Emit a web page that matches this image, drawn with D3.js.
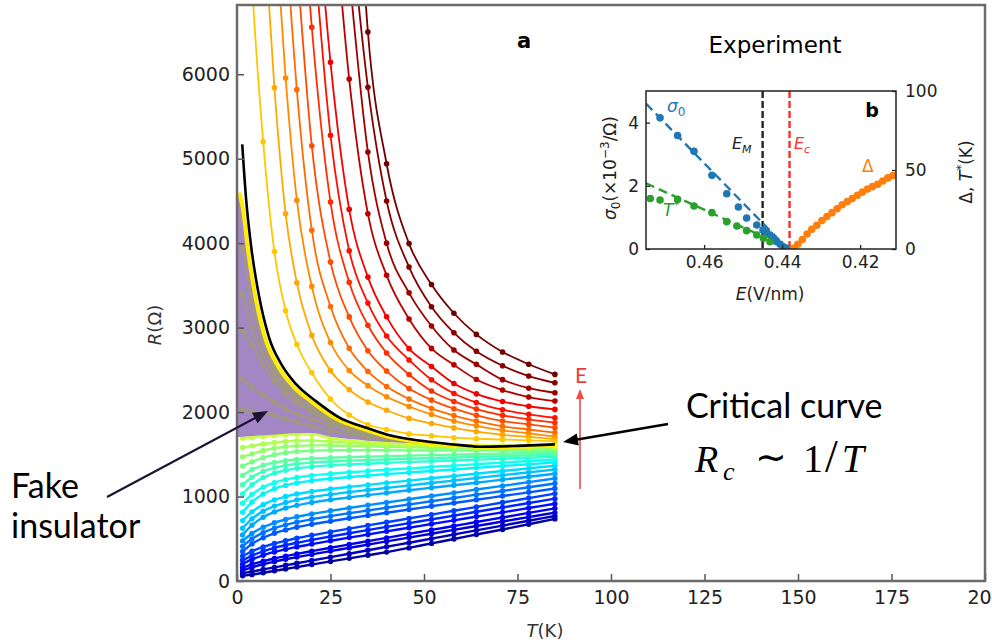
<!DOCTYPE html>
<html><head><meta charset="utf-8">
<script src="https://cdn.jsdelivr.net/npm/d3@7"></script>
<style>body{margin:0;background:#fff}svg{display:block}</style>
</head><body>
<svg id="c" width="992" height="642"></svg>
<script>
// ---------------- DATA ----------------
const T_GRID = [1.5, 4, 7, 10, 13, 16, 20, 25, 30, 35, 40, 46, 52, 58, 64, 71, 78, 85];
// insulating side (yellow -> dark red)
const R_INS_1 = [9500, 7100, 5200, 3900, 3200, 2800, 2465, 2155, 1965, 1850, 1794, 1742, 1720, 1697, 1684, 1675, 1665, 1655];
const R_INS_2 = [null, null, 7900, 5840, 4347, 3532, 2908, 2491, 2265, 2120, 2022, 1925, 1865, 1813, 1768, 1731, 1706, 1680];
const R_INS_3 = [null, null, null, 7900, 5956, 4509, 3488, 2824, 2493, 2313, 2181, 2066, 1972, 1894, 1838, 1783, 1747, 1710];
const R_INS_4 = [null, null, null, null, 7650, 5818, 4153, 3250, 2755, 2482, 2302, 2154, 2043, 1959, 1894, 1832, 1794, 1756];
const R_INS_5 = [null, null, null, null, null, 7350, 5154, 3776, 3127, 2726, 2485, 2278, 2142, 2040, 1962, 1894, 1854, 1815];
const R_INS_6 = [null, null, null, null, null, 9000, 6557, 4486, 3538, 3028, 2700, 2445, 2250, 2126, 2036, 1962, 1914, 1874];
const R_INS_7 = [null, null, null, null, null, null, 7820, 5277, 3911, 3291, 2901, 2617, 2382, 2220, 2113, 2028, 1973, 1933];
const R_INS_8 = [null, null, null, null, null, null, 8800, 6141, 4400, 3598, 3128, 2751, 2539, 2338, 2216, 2125, 2069, 2032];
const R_INS_9 = [null, null, null, null, null, null, null, 8470, 5943, 4349, 3619, 3103, 2754, 2559, 2386, 2261, 2178, 2130];
const R_INS_10 = [null, null, null, null, null, null, null, null, 7200, 5080, 4000, 3412, 3019, 2735, 2565, 2384, 2283, 2229];
const R_INS_11 = [null, null, null, null, null, null, null, null, 7950, 5845, 4500, 3717, 3247, 2939, 2720, 2549, 2427, 2347];
const R_INS_12 = [null, null, null, null, null, null, null, null, 10400, 6500, 4940, 3995, 3510, 3170, 2920, 2712, 2566, 2446];
// metallic side (green -> dark blue)
const R_MET_0 = [1690, 1700, 1712, 1722, 1730, 1735, 1736, 1690, 1662, 1645, 1630, 1618, 1610, 1605, 1602, 1600, 1600, 1600];
const R_MET_1 = [1580, 1600, 1622, 1640, 1652, 1660, 1663, 1650, 1635, 1622, 1612, 1603, 1597, 1593, 1590, 1588, 1586, 1585];
const R_MET_2 = [1470, 1505, 1545, 1572, 1590, 1600, 1606, 1605, 1600, 1594, 1588, 1582, 1577, 1573, 1570, 1568, 1566, 1565];
const R_MET_3 = [1360, 1410, 1460, 1495, 1518, 1533, 1543, 1548, 1549, 1549, 1548, 1547, 1546, 1546, 1545, 1545, 1545, 1545];
const R_MET_4 = [1250, 1317, 1370, 1403, 1424, 1438, 1450, 1459, 1467, 1472, 1478, 1484, 1490, 1496, 1502, 1508, 1515, 1522];
const R_MET_5 = [1140, 1229, 1297, 1340, 1368, 1386, 1402, 1415, 1424, 1432, 1439, 1447, 1455, 1462, 1470, 1479, 1488, 1497];
const R_MET_6 = [1030, 1139, 1224, 1277, 1311, 1334, 1353, 1369, 1380, 1389, 1399, 1408, 1418, 1427, 1437, 1448, 1459, 1470];
const R_MET_7 = [920, 1026, 1110, 1164, 1200, 1225, 1249, 1270, 1287, 1302, 1317, 1333, 1350, 1366, 1383, 1402, 1421, 1440];
const R_MET_8 = [815, 935, 1030, 1092, 1132, 1161, 1188, 1212, 1231, 1248, 1265, 1284, 1303, 1321, 1340, 1362, 1383, 1405];
const R_MET_9 = [715, 819, 904, 960, 1000, 1030, 1060, 1089, 1114, 1138, 1162, 1189, 1216, 1243, 1270, 1302, 1333, 1365];
const R_MET_10 = [625, 736, 827, 887, 929, 961, 993, 1025, 1052, 1077, 1102, 1132, 1161, 1190, 1219, 1253, 1286, 1320];
const R_MET_11 = [545, 661, 755, 818, 863, 896, 929, 962, 990, 1017, 1043, 1074, 1104, 1134, 1164, 1200, 1234, 1270];
const R_MET_12 = [475, 563, 636, 689, 728, 760, 794, 831, 865, 898, 930, 968, 1006, 1044, 1083, 1126, 1171, 1215];
const R_MET_13 = [410, 499, 572, 625, 665, 697, 731, 768, 803, 835, 868, 906, 945, 983, 1022, 1066, 1110, 1155];
const R_MET_14 = [350, 439, 512, 565, 605, 637, 671, 708, 743, 775, 808, 846, 885, 923, 962, 1006, 1050, 1095];
const R_MET_15 = [295, 352, 403, 444, 476, 506, 541, 581, 620, 658, 696, 741, 786, 832, 877, 929, 982, 1035];
const R_MET_16 = [245, 301, 352, 392, 424, 453, 487, 527, 565, 603, 641, 685, 730, 774, 820, 871, 923, 975];
const R_MET_17 = [200, 255, 304, 344, 375, 404, 437, 476, 514, 550, 588, 631, 675, 718, 763, 813, 864, 915];
const R_MET_18 = [160, 198, 234, 266, 294, 321, 354, 394, 433, 472, 511, 558, 605, 651, 698, 752, 806, 860];
const R_MET_19 = [125, 162, 198, 229, 257, 283, 315, 354, 392, 431, 469, 514, 560, 605, 651, 704, 757, 810];
const R_MET_20 = [92, 112, 137, 161, 186, 210, 243, 283, 323, 364, 405, 453, 502, 551, 600, 656, 713, 770];
const R_MET_21 = [62, 75, 98, 120, 142, 165, 195, 232, 268, 305, 342, 392, 445, 497, 550, 610, 672, 735];
// "fake insulator" curves
const R_FAKE_1 = [3950, 3300, 2830, 2530, 2330, 2190, 2050, 1920, 1830, 1765, 1712, 1668, 1632, 1608, 1600, 1600, 1603, 1610];
const R_FAKE_2 = [3400, 3000, 2680, 2450, 2270, 2140, 2020, 1905, 1815, 1755, 1705, 1665, 1633, 1612, 1602, 1598, 1601, 1607];
const R_FAKE_3 = [2960, 2800, 2560, 2370, 2210, 2100, 2000, 1880, 1800, 1740, 1695, 1660, 1630, 1610, 1600, 1596, 1598, 1604];
const R_FAKE_4 = [2390, 2300, 2200, 2120, 2040, 1980, 1920, 1840, 1780, 1725, 1685, 1652, 1625, 1607, 1598, 1594, 1596, 1601];
const R_FAKE_5 = [2030, 2010, 1985, 1960, 1920, 1880, 1835, 1780, 1740, 1705, 1670, 1640, 1617, 1603, 1595, 1592, 1594, 1598];
// critical curve (black) and its yellow companion
const T_CRIT = [1.4, 2.4, 3.7, 6, 8.6, 11.8, 15.8, 21.1, 27.4, 34.5, 40, 49.8, 60.5, 65, 75, 85];
const R_CRIT = [5170, 4540, 3990, 3350, 2880, 2570, 2330, 2130, 1935, 1815, 1736, 1657, 1606, 1590, 1600, 1618];
const T_CRIT_Y = [0.6, 1.6, 2.9, 5.2, 7.8, 11, 15, 20.3, 26.6, 33.7, 39.2, 49, 59.7, 70, 85];
const R_CRIT_Y = [4600, 4400, 3930, 3300, 2840, 2540, 2305, 2110, 1920, 1800, 1722, 1645, 1597, 1585, 1604];
// shaded "fake insulator" region
const T_REGION = [0, 0.6, 1.5, 2.5, 4, 6, 8.6, 12, 16, 20, 25, 30, 35, 40, 46, 52, 58, 62];
const R_REGION_TOP = [4620, 4570, 4390, 4050, 3600, 3130, 2740, 2460, 2250, 2105, 1955, 1852, 1772, 1708, 1662, 1627, 1602, 1596];
const R_REGION_BOT = [1705, 1705, 1708, 1712, 1716, 1722, 1730, 1740, 1748, 1752, 1708, 1680, 1662, 1646, 1634, 1622, 1600, 1596];
// axis ticks
const T_TICKS = [0, 25, 50, 75, 100, 125, 150, 175, 200];
const R_TICKS = [0, 1000, 2000, 3000, 4000, 5000, 6000];
// inset (b)
const E_SIGMA = [0.4713, 0.4668, 0.4626, 0.4580, 0.4542, 0.4512, 0.4491, 0.4465, 0.4449, 0.4440, 0.4431, 0.4422, 0.4414, 0.4405, 0.4397, 0.4390, 0.4382];
const SIGMA0 = [4.15, 3.59, 3.09, 2.33, 1.75, 1.33, 0.98, 0.76, 0.60, 0.52, 0.44, 0.33, 0.23, 0.15, 0.07, 0.03, 0.0];
const E_SIGMA_FIT = [0.4749, 0.4385];
const SIGMA0_FIT = [4.6, 0];
const E_TSTAR = [0.4738, 0.4713, 0.4668, 0.4626, 0.4580, 0.4542, 0.4516, 0.4491, 0.4465, 0.4448, 0.4431];
const TSTAR = [32, 31, 31.4, 27.2, 23, 17.3, 14.6, 11.6, 8.9, 6.8, 4.6];
const E_TSTAR_FIT = [0.4749, 0.4448];
const TSTAR_FIT = [41.6, 7.8];
const E_GAP = [0.4371, 0.4360, 0.4348, 0.4336, 0.4324, 0.4311, 0.4298, 0.4285, 0.4272, 0.4259, 0.4246, 0.4233, 0.4220, 0.4207, 0.4194, 0.4181, 0.4168, 0.4155, 0.4142, 0.4129, 0.4116];
const GAP = [0.5, 3, 6, 9.5, 12.5, 15, 18, 20.5, 23, 25.5, 28, 30, 32, 34, 36, 38, 39.5, 41, 43, 45, 46.5];
const E_M = 0.445, E_C = 0.4381;
const E_TICKS = [0.46, 0.44, 0.42];
const SIG_TICKS = [0, 2, 4];
const RIGHT_TICKS = [0, 50, 100];

// ---------------- DRAWING ----------------
const svg = d3.select('#c');
const FONT = "'DejaVu Sans', sans-serif";
const x = d3.scaleLinear().domain([0, 200]).range([237, 985]);
const y = d3.scaleLinear().domain([0, 6820]).range([581, 5]);

function jet(v) {
  const c = t => Math.max(0, Math.min(1, t));
  return d3.rgb(255 * c(1.5 - Math.abs(4 * v - 3)), 255 * c(1.5 - Math.abs(4 * v - 2)), 255 * c(1.5 - Math.abs(4 * v - 1))).formatHex();
}

const defs = svg.append('defs');
defs.append('clipPath').attr('id', 'plotclip').append('rect')
  .attr('x', x(0)).attr('y', y(6820)).attr('width', x(200) - x(0)).attr('height', y(0) - y(6820));

const regionPts = T_REGION.map((t, i) => ({t, top: R_REGION_TOP[i], bot: R_REGION_BOT[i]}));
const area = d3.area().x(d => x(d.t)).y0(d => y(d.bot)).y1(d => y(d.top)).curve(d3.curveMonotoneX);
defs.append('clipPath').attr('id', 'regionclip').append('path').attr('d', area(regionPts));

const plot = svg.append('g').attr('clip-path', 'url(#plotclip)');
const line = d3.line().defined(d => d[1] != null).x(d => x(d[0])).y(d => y(d[1])).curve(d3.curveMonotoneX);

function drawCurve(g, ts, rs, color, lw, r) {
  const pts = ts.map((t, i) => [t, rs[i]]);
  g.append('path').attr('d', line(pts)).attr('fill', 'none').attr('stroke', color).attr('stroke-width', lw);
  g.selectAll(null).data(pts.filter(p => p[1] != null)).enter().append('circle')
    .attr('cx', p => x(p[0])).attr('cy', p => y(p[1])).attr('r', r).attr('fill', color);
}

const METALLIC = [R_MET_0, R_MET_1, R_MET_2, R_MET_3, R_MET_4, R_MET_5, R_MET_6, R_MET_7, R_MET_8, R_MET_9, R_MET_10,
  R_MET_11, R_MET_12, R_MET_13, R_MET_14, R_MET_15, R_MET_16, R_MET_17, R_MET_18, R_MET_19, R_MET_20, R_MET_21];
const INSULATING = [R_INS_1, R_INS_2, R_INS_3, R_INS_4, R_INS_5, R_INS_6, R_INS_7, R_INS_8, R_INS_9, R_INS_10, R_INS_11, R_INS_12];
const FAKE = [R_FAKE_1, R_FAKE_2, R_FAKE_3, R_FAKE_4, R_FAKE_5];

const metColor = d3.scaleLinear().domain([0, METALLIC.length - 1]).range([0.57, 0.035]);
const insJet = [0.68, 0.71, 0.74, 0.77, 0.80, 0.83, 0.86, 0.885, 0.92, 0.95, 0.975, 1.0];

for (let j = METALLIC.length - 1; j >= 0; j--) drawCurve(plot, T_GRID, METALLIC[j], jet(metColor(j)), 2.4, 2.7);
FAKE.forEach((rs, i) => drawCurve(plot, T_GRID, rs, jet(0.6 + i * 0.005), 2.2, 2.6));
plot.append('path').attr('d', area(regionPts)).attr('fill', '#a386c4');
const inReg = plot.append('g').attr('clip-path', 'url(#regionclip)');
FAKE.forEach(rs => drawCurve(inReg, T_GRID, rs, '#a09a7c', 2.2, 2.6));
for (let k = INSULATING.length - 1; k >= 0; k--) {
  const col = d3.color(jet(insJet[k]));
  const dark = insJet[k] > 0.9 ? col.darker(0.35) : col;
  drawCurve(plot, T_GRID, INSULATING[k], dark.formatHex(), 1.8, 2.8);
}
plot.append('path').attr('d', line(T_CRIT_Y.map((t, i) => [t, R_CRIT_Y[i]])))
  .attr('fill', 'none').attr('stroke', '#ffec00').attr('stroke-width', 4);
plot.append('path').attr('d', line(T_CRIT.map((t, i) => [t, R_CRIT[i]])))
  .attr('fill', 'none').attr('stroke', '#000').attr('stroke-width', 2.6);

// axes
const axG = svg.append('g');
const xAx = axG.append('g').attr('transform', `translate(0,${y(0)})`)
  .call(d3.axisBottom(x).tickValues(T_TICKS).tickSizeInner(-7).tickSizeOuter(0).tickPadding(10).tickFormat(d3.format('d')));
const yAx = axG.append('g').attr('transform', `translate(${x(0)},0)`)
  .call(d3.axisLeft(y).tickValues(R_TICKS).tickSizeInner(-7).tickSizeOuter(0).tickPadding(7).tickFormat(d3.format('d')));
[xAx, yAx].forEach(a => {
  a.select('.domain').remove();
  a.selectAll('.tick line').attr('stroke', '#555').attr('stroke-width', 1.5);
  a.selectAll('.tick text').attr('fill', '#222').style('font-family', FONT).style('font-size', '19px');
});
axG.append('rect').attr('x', x(0)).attr('y', y(6820)).attr('width', x(200) - x(0)).attr('height', y(0) - y(6820))
  .attr('fill', 'none').attr('stroke', '#6b6b6b').attr('stroke-width', 2.5);

const tl = svg.append('text').attr('x', 545).attr('y', 637).attr('text-anchor', 'middle')
  .style('font-family', FONT).style('font-size', '18px').attr('fill', '#333');
tl.append('tspan').style('font-style', 'italic').text('T');
tl.append('tspan').text('(K)');
const rl = svg.append('text').attr('transform', 'translate(161,325) rotate(-90)').attr('text-anchor', 'middle')
  .style('font-family', FONT).style('font-size', '18px').attr('fill', '#333');
rl.append('tspan').style('font-style', 'italic').text('R');
rl.append('tspan').text('(Ω)');

svg.append('text').attr('x', 524).attr('y', 48).attr('text-anchor', 'middle').style('font-family', FONT)
  .style('font-size', '21px').style('font-weight', 'bold').text('a');

// ---------------- INSET ----------------
const ix = d3.scaleLinear().domain([0.4749, 0.4108]).range([646, 896]);
const iyL = d3.scaleLinear().domain([0, 5]).range([249, 91]);
const iyR = d3.scaleLinear().domain([0, 100]).range([249, 91]);
const ins = svg.append('g');
ins.append('text').attr('x', 775).attr('y', 53).attr('text-anchor', 'middle').style('font-family', FONT)
  .style('font-size', '23px').text('Experiment');
defs.append('clipPath').attr('id', 'insclip').append('rect').attr('x', 646).attr('y', 91).attr('width', 250).attr('height', 158);
const ip = ins.append('g').attr('clip-path', 'url(#insclip)');
const BLUE = '#1f77b4', GREEN = '#2ca02c', ORANGE = '#ff7f0e';
ip.append('line').attr('x1', ix(E_M)).attr('x2', ix(E_M)).attr('y1', 91).attr('y2', 249)
  .attr('stroke', '#222').attr('stroke-width', 2.4).attr('stroke-dasharray', '7,3');
ip.append('line').attr('x1', ix(E_C)).attr('x2', ix(E_C)).attr('y1', 91).attr('y2', 249)
  .attr('stroke', '#ff2a2a').attr('stroke-width', 2.4).attr('stroke-dasharray', '7,3');
const fitLine = (es, vs, sc) => d3.line()(es.map((e, i) => [ix(e), sc(vs[i])]));
ip.append('path').attr('d', fitLine(E_SIGMA_FIT, SIGMA0_FIT, iyL)).attr('stroke', BLUE).attr('stroke-width', 2.4)
  .attr('stroke-dasharray', '9,5').attr('fill', 'none');
ip.append('path').attr('d', fitLine(E_TSTAR_FIT, TSTAR_FIT, iyR)).attr('stroke', GREEN).attr('stroke-width', 2.4)
  .attr('stroke-dasharray', '9,5').attr('fill', 'none');
ip.selectAll(null).data(E_SIGMA.map((e, i) => [e, SIGMA0[i]])).enter().append('circle')
  .attr('cx', d => ix(d[0])).attr('cy', d => iyL(d[1])).attr('r', 3.8).attr('fill', BLUE);
ip.selectAll(null).data(E_TSTAR.map((e, i) => [e, TSTAR[i]])).enter().append('circle')
  .attr('cx', d => ix(d[0])).attr('cy', d => iyR(d[1])).attr('r', 3.8).attr('fill', GREEN);
ip.selectAll(null).data(E_GAP.map((e, i) => [e, GAP[i]])).enter().append('circle')
  .attr('cx', d => ix(d[0])).attr('cy', d => iyR(d[1])).attr('r', 3.8).attr('fill', ORANGE);
const iax = (g, axis) => {
  g.call(axis);
  g.select('.domain').remove();
  g.selectAll('.tick line').attr('stroke', '#222').attr('stroke-width', 1.3);
  g.selectAll('.tick text').style('font-family', FONT).style('font-size', '17px').attr('fill', '#222');
};
iax(ins.append('g').attr('transform', 'translate(0,249)'),
  d3.axisBottom(ix).tickValues(E_TICKS).tickSizeInner(-4).tickSizeOuter(0).tickPadding(7).tickFormat(d3.format('.2f')));
iax(ins.append('g').attr('transform', 'translate(646,0)'),
  d3.axisLeft(iyL).tickValues(SIG_TICKS).tickSizeInner(-4).tickSizeOuter(0).tickPadding(7).tickFormat(d3.format('d')));
iax(ins.append('g').attr('transform', 'translate(896,0)'),
  d3.axisRight(iyR).tickValues(RIGHT_TICKS).tickSizeInner(-4).tickSizeOuter(0).tickPadding(9).tickFormat(d3.format('d')));
ins.append('rect').attr('x', 646).attr('y', 91).attr('width', 250).attr('height', 158)
  .attr('fill', 'none').attr('stroke', '#222').attr('stroke-width', 1.5);
const xl = ins.append('text').attr('x', 770).attr('y', 300).attr('text-anchor', 'middle')
  .style('font-family', FONT).style('font-size', '17px').attr('fill', '#222');
xl.append('tspan').style('font-style', 'italic').text('E');
xl.append('tspan').text('(V/nm)');
const yl = ins.append('text').attr('transform', 'translate(616,168) rotate(-90)').attr('text-anchor', 'middle')
  .style('font-family', FONT).style('font-size', '17px').attr('fill', '#222');
yl.append('tspan').style('font-style', 'italic').text('σ');
yl.append('tspan').attr('dy', 4).style('font-size', '12px').text('0');
yl.append('tspan').attr('dy', -4).text('(×10');
yl.append('tspan').attr('dy', -7).style('font-size', '12px').text('−3');
yl.append('tspan').attr('dy', 7).text('/Ω)');
const yr = ins.append('text').attr('transform', 'translate(972,172) rotate(-90)').attr('text-anchor', 'middle')
  .style('font-family', FONT).style('font-size', '17px').attr('fill', '#222');
yr.append('tspan').text('Δ, ');
yr.append('tspan').style('font-style', 'italic').text('T');
yr.append('tspan').attr('dy', -7).style('font-size', '12px').text('*');
yr.append('tspan').attr('dy', 7).text('(K)');
ins.append('text').attr('x', 872).attr('y', 117).attr('text-anchor', 'middle').style('font-family', FONT)
  .style('font-size', '19px').style('font-weight', 'bold').text('b');
const s0 = ins.append('text').attr('x', 667).attr('y', 112).style('font-family', FONT).style('font-size', '17px').attr('fill', BLUE);
s0.append('tspan').style('font-style', 'italic').text('σ');
s0.append('tspan').attr('dy', 4).style('font-size', '12px').text('0');
const ts = ins.append('text').attr('x', 663).attr('y', 216).style('font-family', FONT).style('font-size', '17px').attr('fill', GREEN);
ts.append('tspan').style('font-style', 'italic').text('T');
ts.append('tspan').attr('dy', -7).style('font-size', '12px').text('*');
ins.append('text').attr('x', 862).attr('y', 172).style('font-family', FONT).style('font-size', '17px').attr('fill', ORANGE).text('Δ');
const em = ins.append('text').attr('x', 732).attr('y', 149).style('font-family', FONT).style('font-size', '16px').attr('fill', '#222');
em.append('tspan').style('font-style', 'italic').text('E');
em.append('tspan').attr('dy', 4).style('font-size', '11px').style('font-style', 'italic').text('M');
const ec = ins.append('text').attr('x', 794).attr('y', 149).style('font-family', FONT).style('font-size', '16px').attr('fill', '#ff2a2a');
ec.append('tspan').style('font-style', 'italic').text('E');
ec.append('tspan').attr('dy', 4).style('font-size', '11px').style('font-style', 'italic').text('c');

// ---------------- ANNOTATIONS ----------------
const ANN = "Lato, 'Open Sans', sans-serif";
function arrow(x1, y1, x2, y2, color, lw, hl, hw) {
  const a = Math.atan2(y2 - y1, x2 - x1);
  const bx = x2 - hl * Math.cos(a), by = y2 - hl * Math.sin(a);
  svg.append('line').attr('x1', x1).attr('y1', y1).attr('x2', bx + 2 * Math.cos(a)).attr('y2', by + 2 * Math.sin(a))
    .attr('stroke', color).attr('stroke-width', lw);
  const px = -Math.sin(a) * hw / 2, py = Math.cos(a) * hw / 2;
  svg.append('path').attr('d', `M${x2},${y2}L${bx + px},${by + py}L${bx - px},${by - py}Z`).attr('fill', color);
}
arrow(580, 489, 580, 389, '#f04a4a', 1.6, 10, 8);
svg.append('text').attr('x', 581).attr('y', 383).attr('text-anchor', 'middle').style('font-family', ANN)
  .style('font-size', '21px').attr('fill', '#f03a3a').text('E');
arrow(668, 424, 563, 442, '#000', 2.6, 15, 12);
svg.append('text').attr('x', 686).attr('y', 418).style('font-family', ANN).style('font-size', '34px').text('Critical curve');
const SER = "'Liberation Serif', 'DejaVu Serif', serif";
svg.append('text').attr('x', 695).attr('y', 472).style('font-family', SER).style('font-size', '38px').style('font-style', 'italic').text('R');
svg.append('text').attr('x', 723).attr('y', 480).style('font-family', SER).style('font-size', '26px').style('font-style', 'italic').text('c');
svg.append('text').attr('x', 755).attr('y', 470).style('font-family', "'DejaVu Sans', sans-serif").style('font-size', '38px').text('∼');
const frac = svg.append('text').attr('x', 803).attr('y', 472).style('font-family', SER).style('font-size', '40px');
frac.append('tspan').text('1');
frac.append('tspan').attr('dx', 2).style('font-size', '46px').text('/');
frac.append('tspan').attr('dx', 4).style('font-style', 'italic').text('T');
arrow(107, 497, 268, 411, '#1c1233', 2.2, 15, 12);
svg.append('text').attr('x', 11).attr('y', 498).style('font-family', ANN).style('font-size', '34px').text('Fake');
svg.append('text').attr('x', 11).attr('y', 538).style('font-family', ANN).style('font-size', '34px').text('insulator');
</script>
</body></html>
